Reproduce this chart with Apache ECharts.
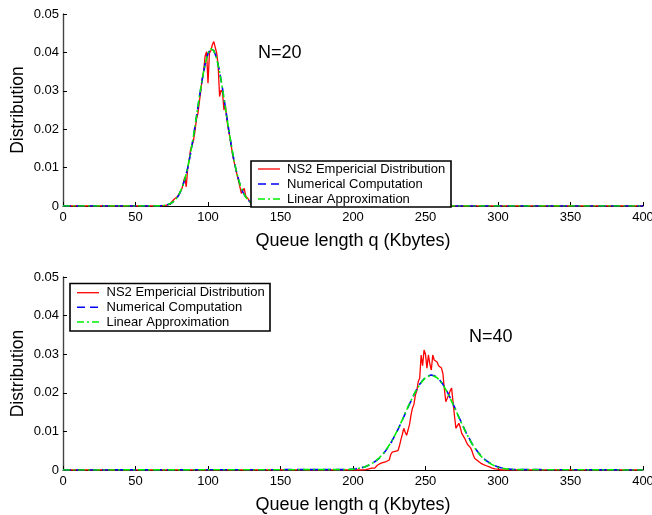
<!DOCTYPE html>
<html>
<head>
<meta charset="utf-8">
<script src="https://cdn.jsdelivr.net/npm/echarts@6/dist/echarts.min.js"></script>
<style>
  html, body { margin: 0; padding: 0; background: #fff; }
  #chart { width: 652px; height: 515px; }
</style>
</head>
<body>
<div id="chart"></div>
<script>
// Axis ticks
const xTicks = [0, 50, 100, 150, 200, 250, 300, 350, 400];
const yTicks = [0, 0.01, 0.02, 0.03, 0.04, 0.05];
const seriesNames = ['NS2 Empericial Distribution', 'Numerical Computation', 'Linear Approximation'];
const panelLabels = ['N=20', 'N=40'];

// N=20: NS2 empirical histogram, one value per Kbyte starting at q = 66
const topEmpStart = 66;
const topEmp = [0, 0.0002, 0.0001, 0.0002, 0.0001, 0.0003, 0.0003, 0.0006, 0.0004, 0.0011,
  0.0008, 0.0019, 0.0017, 0.0025, 0.0030, 0.0038, 0.0045, 0.0060, 0.0076, 0.0050,
  0.0098, 0.0118, 0.0148, 0.0150, 0.0170, 0.0195, 0.0225, 0.0240, 0.0270, 0.0300,
  0.0330, 0.0352, 0.0390, 0.0402, 0.0320, 0.0398, 0.0405, 0.0420, 0.0428, 0.0432,
  0.0398, 0.0365, 0.0285, 0.0302, 0.0296, 0.0250, 0.0262, 0.0225, 0.0200, 0.0180,
  0.0158, 0.0132, 0.0115, 0.0098, 0.0082, 0.0066, 0.0050, 0.0033, 0.0040, 0.0046,
  0.0026, 0.0030, 0.0017, 0.0010, 0.0006, 0.0003, 0.0001, 0];

// N=20: model curves sampled every 2 Kbytes
const topModelQ = [62, 64, 66, 68, 70, 72, 74, 76, 78, 80, 82, 84, 86, 88, 90, 92, 94, 96, 98, 100,
  102, 104, 106, 108, 110, 112, 114, 116, 118, 120, 122, 124, 126, 128, 130, 132, 134, 136, 138, 140, 142];
const topNum = [0.00001, 0.00001, 0.00004, 0.00008, 0.00017, 0.00032, 0.0006, 0.00106, 0.0018, 0.0029,
  0.0046, 0.0069, 0.0099, 0.0137, 0.0182, 0.0231, 0.0282, 0.0329, 0.0369, 0.0397,
  0.0410, 0.0405, 0.0385, 0.0350, 0.0306, 0.0256, 0.0206, 0.0159, 0.0117, 0.0083,
  0.0057, 0.0037, 0.0023, 0.0014, 0.0008, 0.00044, 0.00023, 0.00012, 0.00006, 0.00003, 0.00001];
const topLin = [0.00001, 0.00002, 0.00004, 0.00009, 0.00018, 0.00034, 0.0006, 0.0011, 0.0018, 0.0030,
  0.0047, 0.0070, 0.0100, 0.0138, 0.0183, 0.0232, 0.0283, 0.0330, 0.0370, 0.0398,
  0.0410, 0.0404, 0.0384, 0.0349, 0.0305, 0.0256, 0.0207, 0.0160, 0.0118, 0.0084,
  0.0057, 0.0037, 0.0023, 0.0014, 0.0008, 0.00045, 0.00024, 0.00012, 0.00006, 0.00003, 0.00001];

// N=40: NS2 empirical histogram, one value per Kbyte starting at q = 205
const botEmpStart = 205;
const botEmp = [0, 0.0001, 0, 0.0002, 0.0001, 0.0002, 0.0003, 0.0004, 0.0005, 0.0007,
  0.0005, 0.0010, 0.0013, 0.0011, 0.0017, 0.0016, 0.0020, 0.0019, 0.0022, 0.0024,
  0.0026, 0.0040, 0.0046, 0.0045, 0.0048, 0.0046, 0.0050, 0.0062, 0.0078, 0.0092,
  0.0108, 0.0098, 0.0090, 0.0095, 0.0118, 0.0142, 0.0160, 0.0170, 0.0194, 0.0205,
  0.0229, 0.0238, 0.0298, 0.0270, 0.0311, 0.0300, 0.0264, 0.0298, 0.0275, 0.0259,
  0.0298, 0.0285, 0.0289, 0.0280, 0.0270, 0.0268, 0.0264, 0.0250, 0.0210, 0.0177,
  0.0182, 0.0195, 0.0205, 0.0212, 0.0216, 0.0140, 0.0108, 0.0115, 0.0121, 0.0110,
  0.0095, 0.0091, 0.0082, 0.0074, 0.0066, 0.0062, 0.0058, 0.0050, 0.0038, 0.0030,
  0.0027, 0.0024, 0.0021, 0.0018, 0.0016, 0.0014, 0.0012, 0.0011, 0.0009, 0.0008,
  0.0007, 0.0005, 0.0004, 0.0003, 0.0002, 0.0002, 0.0001, 0];

// N=40: model curves sampled every 2 Kbytes
const botModelQ = [196, 198, 200, 202, 204, 206, 208, 210, 212, 214, 216, 218, 220, 222, 224, 226, 228, 230,
  232, 234, 236, 238, 240, 242, 244, 246, 248, 250, 252, 254,
  256, 258, 260, 262, 264, 266, 268, 270, 272, 274, 276, 278, 280, 282, 284, 286, 288, 290,
  292, 294, 296, 298, 300, 302, 304, 306, 308, 310, 312];
const botNum = [0.00011, 0.00016, 0.00022, 0.00031, 0.00044, 0.0006, 0.0008, 0.0011, 0.0014, 0.0019,
  0.0024, 0.0030, 0.0038, 0.0047, 0.0058, 0.0069, 0.0083, 0.0097,
  0.0113, 0.0129, 0.0146, 0.0163, 0.0179, 0.0195, 0.0209, 0.0222, 0.0232, 0.0240, 0.0244, 0.0246,
  0.0244, 0.0240, 0.0232, 0.0222, 0.0209, 0.0195, 0.0179, 0.0163, 0.0146, 0.0129,
  0.0113, 0.0097, 0.0083, 0.0069, 0.0058, 0.0047, 0.0038, 0.0030, 0.0024, 0.0019,
  0.0014, 0.0011, 0.0008, 0.0006, 0.00044, 0.00031, 0.00022, 0.00016, 0.00011];
const botLin = [0.00010, 0.00015, 0.00021, 0.00030, 0.00043, 0.0006, 0.0008, 0.0011, 0.0015, 0.0019,
  0.0025, 0.0031, 0.0039, 0.0048, 0.0059, 0.0070, 0.0084, 0.0098,
  0.0114, 0.0130, 0.0147, 0.0164, 0.0180, 0.0195, 0.0209, 0.0221, 0.0231, 0.0239, 0.0243, 0.0245,
  0.0243, 0.0239, 0.0231, 0.0221, 0.0208, 0.0194, 0.0178, 0.0162, 0.0145, 0.0128,
  0.0112, 0.0096, 0.0082, 0.0068, 0.0057, 0.0046, 0.0037, 0.0029, 0.0023, 0.0018,
  0.0014, 0.0010, 0.0007, 0.0005, 0.00040, 0.00028, 0.00020, 0.00014, 0.00010];

const FONT = '"Liberation Sans", Arial, Helvetica, sans-serif';
const Q_MIN = xTicks[0], Q_MAX = xTicks[xTicks.length - 1];

// Pad a distribution with zero probability over the rest of the queue range
function padded(points) {
  return [[Q_MIN, 0]].concat(points, [[Q_MAX, 0]]);
}
function fromStart(start, values) {
  return padded(values.map((v, i) => [start + i, v]));
}
function fromPairs(qs, values) {
  return padded(qs.map((q, i) => [q, values[i]]));
}

const lineStyles = [
  { color: '#ff0000', width: 1.3, type: 'solid', dash: null },
  { color: '#0000ff', width: 1.6, type: [8, 5], dash: [8, 5] },
  { color: '#00ee00', width: 1.6, type: [7, 3, 2, 3], dash: [7, 3, 2, 3] }
];

function panelSeries(gridIdx, datasets) {
  return datasets.map((data, k) => ({
    name: seriesNames[k],
    type: 'line',
    xAxisIndex: gridIdx,
    yAxisIndex: gridIdx,
    data: data,
    symbol: 'none',
    showSymbol: false,
    silent: true,
    lineStyle: { color: lineStyles[k].color, width: lineStyles[k].width, type: lineStyles[k].type },
    itemStyle: { color: lineStyles[k].color },
    z: 2 + k
  }));
}

const grids = [
  { left: 63, top: 14, width: 580, height: 192, outerBoundsMode: 'none', containLabel: false },
  { left: 63, top: 277, width: 580, height: 193, outerBoundsMode: 'none', containLabel: false }
];

const xAxes = grids.map((g, i) => ({
  type: 'value', gridIndex: i,
  min: Q_MIN, max: Q_MAX, interval: xTicks[1] - xTicks[0],
  axisLine: { show: true, onZero: false, lineStyle: { color: '#000', width: 1 } },
  axisTick: { show: true, inside: true, length: 4, lineStyle: { color: '#000' } },
  axisLabel: { color: '#000', fontSize: 13, margin: 5, fontFamily: FONT, hideOverlap: false },
  splitLine: { show: false },
  name: 'Queue length q (Kbytes)', nameLocation: 'middle', nameGap: 26,
  nameMoveOverlap: false,
  nameTextStyle: { color: '#000', fontSize: 18, fontFamily: FONT }
}));

const yAxes = grids.map((g, i) => ({
  type: 'value', gridIndex: i,
  min: yTicks[0], max: yTicks[yTicks.length - 1], interval: yTicks[1] - yTicks[0],
  axisLine: { show: true, lineStyle: { color: '#444', width: 1.4 } },
  axisTick: { show: true, inside: true, length: 4, lineStyle: { color: '#000' } },
  axisLabel: {
    color: '#000', fontSize: 13, margin: 4, fontFamily: FONT,
    formatter: v => (Math.abs(v) < 1e-9 ? '0' : v.toFixed(2))
  },
  splitLine: { show: false },
  name: 'Distribution', nameLocation: 'middle', nameGap: 36,
  nameMoveOverlap: false,
  nameTextStyle: { color: '#000', fontSize: 17.5, fontFamily: FONT }
}));

// Boxed legend: frame, line samples and labels
function legendGraphic(x, y, w, h, rowY, sampleX, textX) {
  const els = [{
    type: 'rect', z: 100,
    shape: { x: x, y: y, width: w, height: h },
    style: { fill: '#fff', stroke: '#000', lineWidth: 1.6 }
  }];
  seriesNames.forEach((name, k) => {
    const ls = lineStyles[k];
    els.push({
      type: 'line', z: 101,
      shape: { x1: sampleX, y1: rowY[k], x2: sampleX + 22, y2: rowY[k] },
      style: { stroke: ls.color, lineWidth: ls.width, lineDash: ls.dash }
    });
    els.push({
      type: 'text', z: 101, x: textX, y: rowY[k],
      style: { text: name, fontSize: 13, fontFamily: FONT, fill: '#000', verticalAlign: 'middle', align: 'left' }
    });
  });
  return els;
}

const chart = echarts.init(document.getElementById('chart'), null, { renderer: 'canvas' });
chart.setOption({
  animation: false,
  backgroundColor: '#fff',
  grid: grids,
  xAxis: xAxes,
  yAxis: yAxes,
  graphic: [].concat(
    legendGraphic(251, 161, 200, 46, [169, 184, 199], 258, 287),
    legendGraphic(70, 283.5, 200, 47.5, [292.7, 307.3, 322], 77, 106.5),
    [
      { type: 'text', z: 101, x: 258, y: 53, style: { text: panelLabels[0], fontSize: 18, fill: '#000', fontFamily: FONT, verticalAlign: 'middle' } },
      { type: 'text', z: 101, x: 469, y: 337, style: { text: panelLabels[1], fontSize: 18, fill: '#000', fontFamily: FONT, verticalAlign: 'middle' } }
    ]
  ),
  series: [].concat(
    panelSeries(0, [fromStart(topEmpStart, topEmp), fromPairs(topModelQ, topNum), fromPairs(topModelQ, topLin)]),
    panelSeries(1, [fromStart(botEmpStart, botEmp), fromPairs(botModelQ, botNum), fromPairs(botModelQ, botLin)])
  )
});
</script>
</body>
</html>
